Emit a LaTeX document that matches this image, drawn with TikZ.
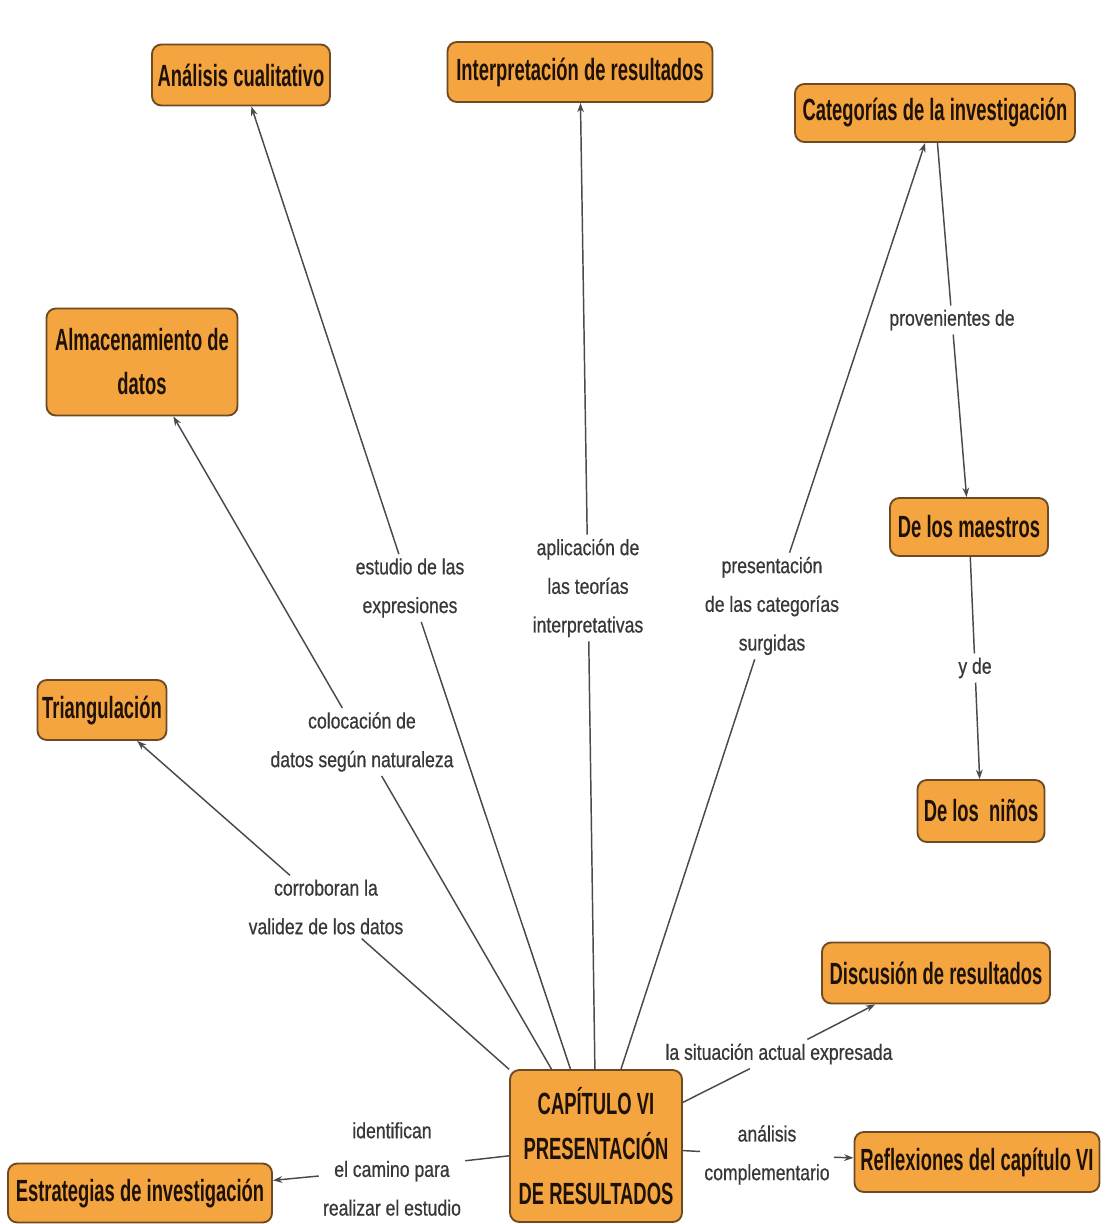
\documentclass[tikz,border=0pt]{standalone}
\usepackage{fontspec}
\setmainfont{Liberation Sans}
\newfontfamily\conceptfont{Liberation Sans}[FakeStretch=0.6]
\newfontfamily\linkfont{Liberation Sans}[FakeStretch=0.8, FakeBold=0.6]
\usetikzlibrary{arrows.meta}
\definecolor{conceptfill}{HTML}{F5A540}
\definecolor{conceptedge}{HTML}{6E4A22}
\definecolor{concepttext}{HTML}{1E1208}
\definecolor{linktext}{HTML}{383838}
\definecolor{linkline}{HTML}{4A4A4A}
\tikzset{
  concept/.style={draw=conceptedge, line width=1.4pt, fill=conceptfill,
    rounded corners=7pt, align=center, inner xsep=3pt, inner ysep=2pt,
    text=concepttext, font=\conceptfont\bfseries\fontsize{23pt}{33pt}\selectfont},
  wd/.style={minimum width={#1*0.75pt}},
  ht/.style={minimum height={#1*0.75pt}},
  linking/.style={align=center, inner sep=3pt, text=linktext,
    font=\linkfont\fontsize{16.5pt}{29pt}\selectfont},
  conn/.style={draw=linkline, line width=1.1pt},
  arr/.style={conn, -{Stealth[length=7pt,width=5pt]}}
}
\begin{document}
\begin{tikzpicture}[x=0.75pt, y=-0.75pt]
\useasboundingbox[fill=white] (0,0) rectangle (1104,1224);

% concepts
\node[concept, wd=178, ht=61] (ana) at (241,75) {Análisis cualitativo};
\node[concept, wd=265, ht=60] (interp) at (580,72) {Interpretación de resultados};
\node[concept, wd=280, ht=58] (cat) at (935,113) {Categorías de la investigación};
\node[concept, wd=191, ht=107] (alm) at (142,362) {Almacenamiento de\\datos};
\node[concept, wd=129, ht=60] (tri) at (102,710) {Triangulación};
\node[concept, wd=158, ht=58] (maes) at (969,527) {De los maestros};
\node[concept, wd=127, ht=62] (ninos) at (981,811) {De los \ niños};
\node[concept, wd=228, ht=61] (disc) at (936,973) {Discusión de resultados};
\node[concept, wd=245, ht=60] (refl) at (977,1162) {Reflexiones del capítulo VI};
\node[concept, wd=264, ht=59] (estr) at (140,1193) {Estrategias de investigación};
\node[concept, wd=172, ht=152, font=\conceptfont\bfseries\fontsize{23pt}{34pt}\selectfont]
  (cap) at (596,1146) {CAPÍTULO VI\\PRESENTACIÓN\\DE RESULTADOS};

% linking phrases
\node[linking] (lana) at (410,588) {estudio de las\\expresiones};
\node[linking] (linterp) at (588,588) {aplicación de\\las teorías\\interpretativas};
\node[linking] (lcat) at (772,606) {presentación\\de las categorías\\surgidas};
\node[linking] (lalm) at (362,742) {colocación de\\datos según naturaleza};
\node[linking] (ltri) at (326,907) {corroboran la\\validez de los datos};
\node[linking] (lprov) at (952,320) {provenientes de};
\node[linking] (lyde) at (975,668) {y de};
\node[linking] (ldisc) at (779,1054) {la situación actual expresada};
\node[linking] (lrefl) at (767,1155) {análisis\\complementario};
\node[linking] (lestr) at (392,1169) {identifican\\el camino para\\realizar el estudio};

% connectors
\draw[conn] (cap) -- (lana);   \draw[arr] (lana) -- (ana);
\draw[conn] (cap) -- (linterp); \draw[arr] (linterp) -- (interp);
\draw[conn] (cap) -- (lcat);   \draw[arr] (lcat) -- (cat);
\draw[conn] (cap) -- (lalm);   \draw[arr] (lalm) -- (alm);
\draw[conn] (cap) -- (ltri);   \draw[arr] (ltri) -- (tri);
\draw[conn] (cat) -- (lprov);  \draw[arr] (lprov) -- (maes);
\draw[conn] (maes) -- (lyde);  \draw[arr] (lyde) -- (ninos);
\draw[conn] (cap) -- (ldisc);  \draw[arr] (ldisc) -- (disc);
\draw[conn] (cap) -- (lrefl);  \draw[arr] (lrefl) -- (refl);
\draw[conn] (cap) -- (lestr);  \draw[arr] (lestr) -- (estr);
\end{tikzpicture}
\end{document}
